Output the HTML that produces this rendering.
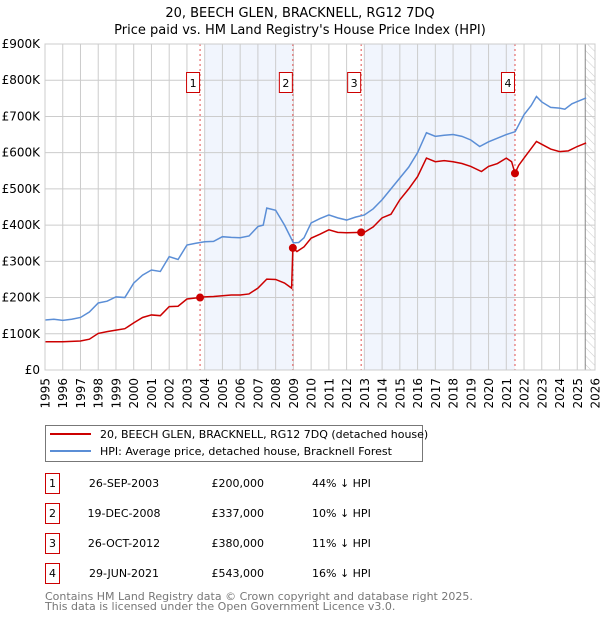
<!DOCTYPE html>
<html><head><meta charset="utf-8"><style>
body{margin:0;background:#fff;font-family:"DejaVu Sans","Liberation Sans",sans-serif;}
svg text{font-family:"DejaVu Sans","Liberation Sans",sans-serif;}
</style></head><body>
<svg id="c" width="600" height="620" xmlns="http://www.w3.org/2000/svg">
<defs><pattern id="hatch" width="6" height="6" patternUnits="userSpaceOnUse" patternTransform="rotate(-45)"><line x1="0" y1="0" x2="0" y2="6" stroke="#ccc" stroke-width="1"/></pattern></defs>
<text x="300" y="17" text-anchor="middle" font-size="13">20, BEECH GLEN, BRACKNELL, RG12 7DQ</text>
<text x="300" y="34" text-anchor="middle" font-size="13">Price paid vs. HM Land Registry's House Price Index (HPI)</text>
<g id="plot"></g>
<g>
<rect x="45.5" y="425.5" width="377" height="36" fill="#fff" stroke="#777"/>
<line x1="50" y1="434" x2="91" y2="434" stroke="#cc0000" stroke-width="2"/>
<text x="100" y="438" font-size="11">20, BEECH GLEN, BRACKNELL, RG12 7DQ (detached house)</text>
<line x1="50" y1="451" x2="91" y2="451" stroke="#5b8ed6" stroke-width="2"/>
<text x="100" y="455" font-size="11">HPI: Average price, detached house, Bracknell Forest</text>
</g>
<g id="table"></g>
<text x="45" y="600" font-size="11" fill="#777">Contains HM Land Registry data © Crown copyright and database right 2025.</text>
<text x="45" y="610" font-size="11" fill="#777">This data is licensed under the Open Government Licence v3.0.</text>
</svg>
<script>
const yearTicks=[1995,1996,1997,1998,1999,2000,2001,2002,2003,2004,2005,2006,2007,2008,2009,2010,2011,2012,2013,2014,2015,2016,2017,2018,2019,2020,2021,2022,2023,2024,2025,2026];
const valueTicks=[0,100,200,300,400,500,600,700,800,900];
const valueTickLabels=["£0","£100K","£200K","£300K","£400K","£500K","£600K","£700K","£800K","£900K"];
const hpiYears=[1995,1995.5,1996,1996.5,1997,1997.5,1998,1998.5,1999,1999.5,2000,2000.5,2001,2001.5,2002,2002.5,2003,2003.5,2004,2004.5,2005,2005.5,2006,2006.5,2007,2007.3,2007.5,2008,2008.5,2009,2009.3,2009.6,2010,2010.5,2011,2011.5,2012,2012.5,2013,2013.5,2014,2014.5,2015,2015.5,2016,2016.5,2017,2017.5,2018,2018.5,2019,2019.5,2020,2020.5,2021,2021.5,2022,2022.4,2022.7,2023,2023.5,2024,2024.3,2024.7,2025,2025.5];
const hpiValues=[138,140,137,140,145,160,185,190,202,200,240,262,276,272,313,305,345,350,354,355,368,366,365,370,396,400,447,441,400,351,352,365,406,418,428,420,414,422,428,445,470,500,530,560,600,655,645,648,650,645,635,617,630,640,650,658,705,730,755,740,725,723,720,735,741,751];
const ppYears=[1995,1996,1997,1997.5,1998,1998.5,1999,1999.5,2000,2000.5,2001,2001.5,2002,2002.5,2003,2003.74,2004,2004.5,2005,2005.5,2006,2006.5,2007,2007.5,2008,2008.5,2008.9,2008.97,2009.2,2009.6,2010,2010.5,2011,2011.5,2012,2012.82,2013,2013.5,2014,2014.5,2015,2015.5,2016,2016.5,2017,2017.5,2018,2018.5,2019,2019.6,2020,2020.5,2021,2021.3,2021.49,2021.7,2022,2022.7,2023,2023.5,2024,2024.5,2025,2025.5];
const ppValues=[78,78,80,85,101,106,110,114,130,145,152,150,175,176,196,200,202,203,205,207,207,210,226,251,250,240,226,337,327,340,364,375,387,380,379,380,380,395,420,430,470,500,534,585,575,578,575,570,562,548,562,570,585,575,543,565,585,631,623,610,603,605,617,627];
const saleLabels=["1","2","3","4"];
const saleYears=[2003.74,2008.97,2012.82,2021.49];
const saleValues=[200,337,380,543];
const saleDates=["26-SEP-2003","19-DEC-2008","26-OCT-2012","29-JUN-2021"];
const salePrices=["£200,000","£337,000","£380,000","£543,000"];
const saleDiffs=["44% ↓ HPI","10% ↓ HPI","11% ↓ HPI","16% ↓ HPI"];
const shadeStarts=[2004,2013];
const shadeEnds=[2008.97,2021.49];

const X0=45,X1=595,Y0=370,Y1=44;
const xs=y=>X0+(y-1995)/31*(X1-X0);
const ys=v=>Y0-v/900*(Y0-Y1);
const NS="http://www.w3.org/2000/svg";
const plot=document.getElementById('plot');
function mk(tag,attrs,parent){const e=document.createElementNS(NS,tag);for(const k in attrs)e.setAttribute(k,attrs[k]);(parent||plot).appendChild(e);return e;}
mk('rect',{x:X0,y:Y1,width:X1-X0,height:Y0-Y1,fill:'#fff'});
for(let i=0;i<shadeStarts.length;i++){
 const r=mk('rect',{x:xs(shadeStarts[i]),y:Y1,width:xs(shadeEnds[i])-xs(shadeStarts[i]),height:Y0-Y1,fill:'#eef3fc',opacity:0.8});
 
 
}
const hx=xs(2025.45);
const h=mk('rect',{x:hx,y:Y1,width:X1-hx,height:Y0-Y1,fill:'url(#hatch)'});


yearTicks.forEach(y=>{
 mk('line',{x1:xs(y),x2:xs(y),y1:Y1,y2:Y0,stroke:'#ccc','stroke-width':1});
 const tx=xs(y)+4.5, ty=378;
 const t=mk('text',{x:tx,y:ty,'text-anchor':'end','font-size':12,transform:'rotate(-90 '+tx+' '+ty+')'});t.textContent=y;
 
 
});
valueTicks.forEach((v,i)=>{
 mk('line',{x1:X0,x2:X1,y1:ys(v),y2:ys(v),stroke:'#ccc','stroke-width':1});
 const t=mk('text',{x:X0-5,y:ys(v)+4,'text-anchor':'end','font-size':12});t.textContent=valueTickLabels[i];
 
 
});
mk('line',{x1:hx,x2:hx,y1:Y1,y2:Y0,stroke:'#888','stroke-width':1});
saleYears.forEach((y,i)=>{
 mk('line',{x1:xs(y),x2:xs(y),y1:Y1,y2:Y0,stroke:'#e05050','stroke-width':1,'stroke-dasharray':'2,3'});
});
const hp=mk('polyline',{points:hpiYears.map((y,i)=>xs(y)+','+ys(hpiValues[i])).join(' '),fill:'none',stroke:'#5b8ed6','stroke-width':1.5});


const pp=mk('polyline',{points:ppYears.map((y,i)=>xs(y)+','+ys(ppValues[i])).join(' '),fill:'none',stroke:'#cc0000','stroke-width':1.5});


saleYears.forEach((y,i)=>{
 const c=mk('circle',{cx:xs(y),cy:ys(saleValues[i]),r:4,fill:'#cc0000'});
 
 
 const g=mk('g',{});
 
 
 mk('rect',{x:xs(y)-13.5,y:72.5,width:13,height:20,fill:'#fff',stroke:'#cc0000'},g);
 const t=mk('text',{x:xs(y)-7,y:87,'text-anchor':'middle','font-size':11},g);t.textContent=saleLabels[i];
});
mk('rect',{x:X0,y:Y1,width:X1-X0,height:Y0-Y1,fill:'none',stroke:'#ccc'});
const tb=document.getElementById('table');
saleLabels.forEach((l,i)=>{
 const cy=483+i*30;
 const row=mk('g',{},tb);
 
 
 mk('rect',{x:45.5,y:cy-9.5,width:14,height:20,fill:'#fff',stroke:'#cc0000'},row);
 let t=mk('text',{x:52.5,y:cy+4,'text-anchor':'middle','font-size':11},row);t.textContent=l;
 t=mk('text',{x:124,y:cy+4,'text-anchor':'middle','font-size':11},row);t.textContent=saleDates[i];
 t=mk('text',{x:264,y:cy+4,'text-anchor':'end','font-size':11},row);t.textContent=salePrices[i];
 t=mk('text',{x:312,y:cy+4,'font-size':11},row);t.textContent=saleDiffs[i];
});
</script>
</body></html>
